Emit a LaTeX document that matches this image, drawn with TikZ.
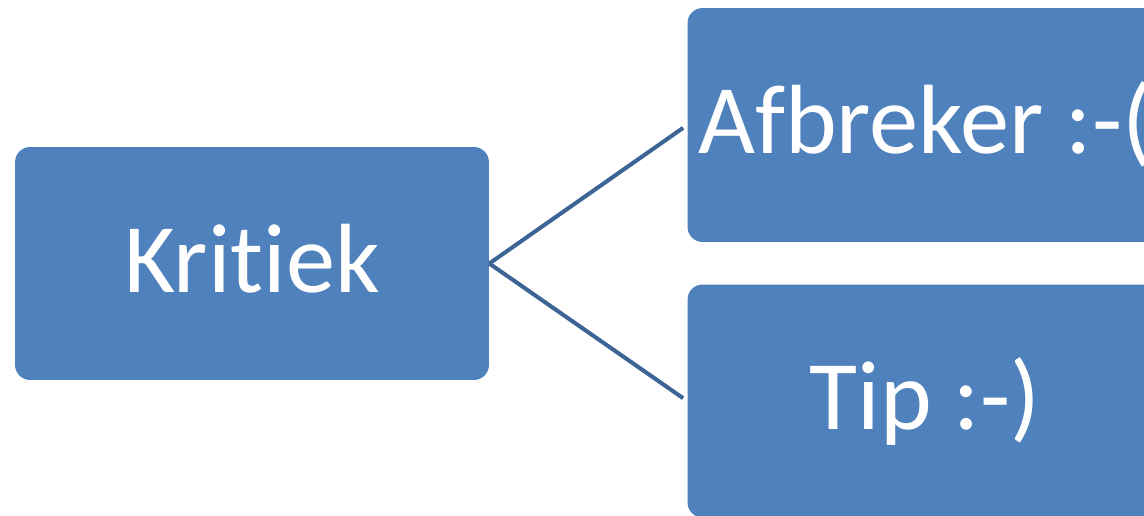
\documentclass[tikz,border=0pt]{standalone}
\usepackage{fontspec}
\setmainfont{Carlito}[Ligatures=NoCommon]
\definecolor{boxblue}{HTML}{4F81BD}
\definecolor{lineblue}{HTML}{3C6494}
\tikzset{kaart/.style={fill=boxblue,rounded corners=0.3cm,text=white,font=\fontsize{56}{66}\selectfont,inner sep=0pt,text height=47pt,text depth=14pt,minimum width=9.5cm,minimum height=4.66cm}}
\begin{document}
\begin{tikzpicture}[x=0.02cm,y=-0.02cm]
				\useasboundingbox (0,0) rectangle (1144,515);
				\node[kaart,minimum width=9.48cm] (krit) at (252,263.5) {Kritiek};
				\node[kaart,minimum height=4.68cm] (afb) at (925,125) {\makebox[0pt]{Afbreker :-(}};
				\node[kaart] (tip) at (925,401) {Tip :-)};
				\draw[lineblue,line width=2.3pt,shorten >=2.8pt] (krit.east)--(afb.west);
				\draw[lineblue,line width=2.3pt,shorten >=2.8pt] (krit.east)--(tip.west);
			\end{tikzpicture}
\end{document}
